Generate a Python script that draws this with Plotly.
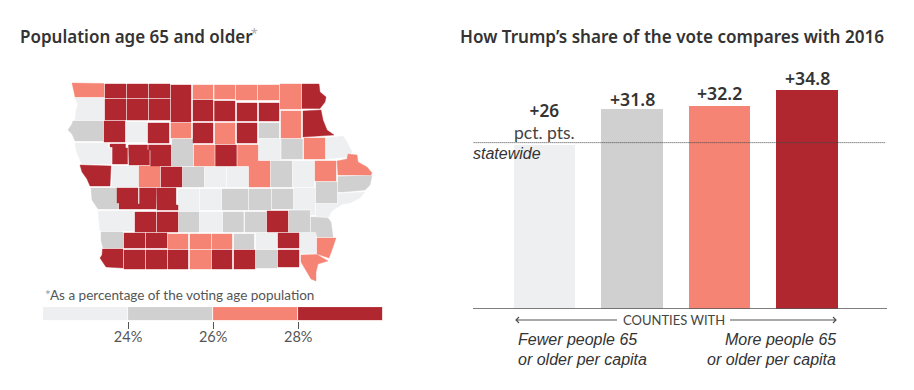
import plotly.graph_objects as go

W, H = 914, 390

# ---- bar chart data ----
bar_groups = ["Fewest", "Fewer", "More", "Most"]
bar_values = [26, 31.8, 32.2, 34.8]
bar_label_shift = [1, -3, 0, -1]
statewide_value = 26.45
band_colors = ["#eeeff1", "#d0d0d0", "#f68475", "#b1272f"]

# ---- legend data ----
legend_breaks = [22, 24, 26, 28, 30]
legend_ticks = [24, 26, 28]
legend_ticktext = ["24%", "26%", "28%"]

# ---- map data: county -> band (0..3) ----
county_band = {
    "Lyon": 2, "Osceola": 3, "Dickinson": 3, "Emmet": 3, "Kossuth": 3, "Winnebago": 2, "Worth": 2, "Mitchell": 2,
    "Howard": 2, "Winneshiek": 2, "Allamakee": 3,
    "Sioux": 0, "OBrien": 3, "Clay": 3, "PaloAlto": 3, "Hancock": 3, "CerroGordo": 3, "Floyd": 3, "Chickasaw": 3,
    "Fayette": 2, "Clayton": 3,
    "Plymouth": 1, "Cherokee": 3, "BuenaVista": 0, "Pocahontas": 3, "Humboldt": 2, "Wright": 3, "Franklin": 2,
    "Butler": 3, "Bremer": 1,
    "Woodbury": 0, "Ida": 3, "Sac": 3, "Calhoun": 3, "Webster": 1, "Hamilton": 2, "Hardin": 3, "Grundy": 2,
    "BlackHawk": 0, "Buchanan": 1, "Delaware": 2, "Dubuque": 0,
    "Monona": 3, "Crawford": 0, "Carroll": 2, "Greene": 3, "Boone": 1, "Story": 0, "Marshall": 0, "Tama": 2,
    "Benton": 1, "Linn": 0, "Jones": 2, "Jackson": 2, "Clinton": 1, "Cedar": 1, "Scott": 0,
    "Harrison": 1, "Shelby": 3, "Audubon": 3, "Guthrie": 3, "Dallas": 0, "Polk": 0, "Jasper": 1, "Poweshiek": 1,
    "Iowa": 1, "Johnson": 0, "Muscatine": 0,
    "Pottawattamie": 0, "Cass": 3, "Adair": 3, "Madison": 1, "Warren": 0, "Marion": 1, "Mahaska": 1, "Keokuk": 3,
    "Washington": 1, "Louisa": 1,
    "Mills": 1, "Montgomery": 3, "Adams": 3, "Union": 2, "Clarke": 2, "Lucas": 2, "Monroe": 1, "Wapello": 0,
    "Jefferson": 3, "Henry": 0, "DesMoines": 2,
    "Fremont": 3, "Page": 3, "Taylor": 3, "Ringgold": 3, "Decatur": 2, "Wayne": 3, "Appanoose": 3, "Davis": 1,
    "VanBuren": 3, "Lee": 2,
}

# county outlines in map units: 4 numbers = box (x0, y0, x1, y1), otherwise a vertex list
county_outline = {
    "Lyon": [(72, 83), (104, 83.5), (104, 97), (75, 97), (74, 92), (73, 88)],
    "Osceola": (105, 84, 126, 98), "Dickinson": (127, 84, 148, 98), "Emmet": (149, 84, 170, 98),
    "Kossuth": (171, 85, 191, 122), "Winnebago": (193, 85, 213, 99), "Worth": (214.5, 85, 235, 99),
    "Mitchell": (236, 85, 257, 100), "Howard": (258, 85, 279, 100), "Winneshiek": (280, 84, 301, 109),
    "Allamakee": [(302, 84), (319, 84), (320, 92), (326, 97), (325, 102), (320, 108.5), (302, 108.5)],
    "Sioux": [(74, 98), (104, 98), (104, 120), (75, 120), (76, 110), (78, 105), (76, 100)],
    "OBrien": (105, 99, 126, 120), "Clay": (127, 99, 148, 120), "PaloAlto": (149, 99, 170, 120),
    "Hancock": (193, 100, 213, 121), "CerroGordo": (214.5, 101, 235, 121), "Floyd": (237, 103, 257, 121),
    "Chickasaw": (259, 103, 279, 121), "Fayette": (281, 111, 301, 138),
    "Clayton": [(303, 111), (321, 110), (323, 120), (327, 130), (334, 135), (303, 137)],
    "Plymouth": [(73, 121), (103, 121), (103, 141), (75, 141), (72, 134), (68, 130), (72, 124)],
    "Cherokee": (104, 121, 125, 142), "BuenaVista": (126, 122, 147, 142), "Pocahontas": (148, 123, 169, 143),
    "Humboldt": (171, 123, 191, 138), "Wright": (193, 123, 213, 143), "Franklin": (215, 123, 235, 144),
    "Butler": (237, 123, 257, 143), "Bremer": (259, 123, 279, 138),
    "Woodbury": [(75, 143), (108, 143), (108, 148), (111.5, 148), (111.5, 164), (82, 164), (79, 158), (76, 150)],
    "Ida": [(110, 144), (125.5, 144), (125.5, 148), (127.5, 148), (127.5, 164), (112.5, 164), (112.5, 147), (110, 147)],
    "Sac": [(128.5, 145), (147.5, 145), (147.5, 150), (149.5, 150), (149.5, 165), (129, 165)],
    "Calhoun": [(148.5, 145), (171, 145), (171, 166), (150.5, 166), (150.5, 150), (148.5, 150)],
    "Webster": (172, 139, 193, 166), "Hamilton": (194, 145, 214.5, 166), "Hardin": (215.5, 145, 236.5, 166),
    "Grundy": (237.5, 145, 258, 166), "BlackHawk": (259, 139, 280.5, 160), "Buchanan": (281.5, 139, 302.5, 159),
    "Delaware": (304, 138, 325, 159),
    "Dubuque": [(326, 138), (343, 136), (347, 142), (352, 152), (348, 157), (326, 159)],
    "Monona": [(80, 165), (111, 166), (110, 186), (90, 186), (87, 179), (82, 172)],
    "Crawford": (112, 166, 138, 187), "Carroll": (139, 166, 160, 187), "Greene": (161, 167, 182, 187),
    "Boone": (183, 167, 204, 187), "Story": (205, 167, 226, 187), "Marshall": (227, 167, 248, 187),
    "Tama": (249, 161, 270, 187), "Benton": (271, 161, 292, 187), "Linn": (293, 161, 314, 187),
    "Jones": (315, 161, 336, 181),
    "Jackson": [(337, 161), (347, 159), (348, 154), (357, 155), (358, 162), (367, 167), (372, 173), (371, 175), (338, 175)],
    "Clinton": [(338, 176.5), (372, 175.5), (370, 185), (365, 190), (343, 192), (338, 192)],
    "Cedar": (316, 182, 337, 203),
    "Scott": [(338, 193.5), (365, 192), (360, 198), (350, 203), (343, 204), (338, 204)],
    "Harrison": [(91, 188), (118, 188), (118, 209), (98, 209), (92, 200)],
    "Shelby": [(117, 188), (138, 188), (138, 204), (140, 204), (140, 209), (119, 209), (119, 203), (117, 203)],
    "Audubon": (139.5, 188, 156, 209),
    "Guthrie": [(156.5, 188), (176, 188), (176, 205), (178, 205), (178, 210), (157, 210)],
    "Dallas": (178, 189, 199, 211), "Polk": (200, 189, 221, 210), "Jasper": (222, 189, 248, 210),
    "Poweshiek": (249, 189, 271, 210), "Iowa": (272, 189, 293, 209),
    "Johnson": [(294, 188), (315, 188), (315, 215), (311, 215), (311, 209.5), (294, 209.5)],
    "Muscatine": [(316, 204), (343, 204), (333, 210), (330, 214), (329, 217), (316, 216.5)],
    "Pottawattamie": [(98, 211), (134, 211), (134, 231), (100, 231), (99, 222)],
    "Cass": (135, 212, 156, 232), "Adair": (157, 212, 178, 232), "Madison": (179, 212, 199, 232),
    "Warren": (200, 212, 222, 232), "Marion": (223, 212, 243.5, 232), "Mahaska": (245, 212, 266, 232),
    "Keokuk": (267, 211, 288, 232), "Washington": (289, 210.5, 310, 232),
    "Louisa": [(311, 217), (328, 218), (331, 222), (333, 237), (317, 237), (316, 232), (311, 232)],
    "Mills": [(101, 232), (123, 232), (123, 248), (103, 248), (101, 240)],
    "Montgomery": (124, 233, 145, 248), "Adams": (146, 233, 167, 248), "Union": (168, 234, 188, 249),
    "Clarke": (190, 234, 211, 249), "Lucas": (212, 234, 232, 249), "Monroe": (234, 234, 254, 249),
    "Wapello": (256, 233, 277, 249), "Jefferson": (278, 233, 299, 248), "Henry": (300, 232.5, 316, 253.5),
    "DesMoines": [(317, 238), (336, 238), (333, 247), (329, 258), (317, 254)],
    "Fremont": [(102.5, 249), (123, 249), (123, 268), (106, 267), (100, 258), (102, 255)],
    "Page": (124, 250, 145, 269), "Taylor": (146, 250, 167, 269), "Ringgold": (168, 250, 188, 269),
    "Decatur": (190, 250, 211, 269), "Wayne": (212, 250, 232, 269), "Appanoose": (234, 250, 255, 269),
    "Davis": (256, 250, 277, 268), "VanBuren": (278, 250, 299, 267),
    "Lee": [(301, 255), (317, 254.5), (328, 261), (318, 264), (316, 272), (316, 281), (311, 279), (305, 268), (301, 262)],
}

INK = "#333333"
SANS = "Noto Sans"
NARROW = "Lato"
ITALIC = "Liberation Sans"


def px(x):
    return x / W


def py(y):
    return 1 - y / H


fig = go.Figure()

# --- choropleth built from county outlines, one filled trace per band ---
for band, color in enumerate(band_colors):
    xs, ys = [], []
    for name, b in county_band.items():
        if b != band:
            continue
        o = county_outline[name]
        if len(o) == 4 and not isinstance(o[0], tuple):
            x0, y0, x1, y1 = o
            o = [(x0, y0), (x1, y0), (x1, y1), (x0, y1)]
        xs += [p[0] for p in o] + [o[0][0], None]
        ys += [p[1] for p in o] + [o[0][1], None]
    fig.add_trace(go.Scatter(x=xs, y=ys, mode="lines", fill="toself", fillcolor=color,
                             line=dict(width=0.4, color=color), hoverinfo="skip",
                             showlegend=False, xaxis="x", yaxis="y"))

# --- legend strip ---
for i, color in enumerate(band_colors):
    fig.add_trace(go.Bar(y=[0], x=[legend_breaks[i + 1] - legend_breaks[i]], base=[legend_breaks[i]],
                         orientation="h", marker=dict(color=color, line=dict(color="white", width=0.8)),
                         width=1, showlegend=False, hoverinfo="skip", xaxis="x3", yaxis="y3"))

# --- bars ---
fig.add_trace(go.Bar(x=list(range(len(bar_values))), y=bar_values, width=0.703,
                     marker=dict(color=band_colors, line=dict(width=0)),
                     showlegend=False, hoverinfo="skip", xaxis="x2", yaxis="y2"))

annotations = []


def label(x, y, text, size, font=SANS, color=INK, anchor="left", weight=None, italic=False):
    f = dict(family=font, size=size, color=color)
    if weight:
        f["weight"] = weight
    if italic:
        f["style"] = "italic"
    annotations.append(dict(xref="paper", yref="paper", x=px(x), y=py(y), text=text, showarrow=False,
                            xanchor=anchor, yanchor="middle", font=f, borderpad=0))


label(19, 36, "Population age 65 and older", 17, weight=600)
label(250, 33.5, "*", 12, color="#aaaaaa")
label(459, 36, "How Trump’s share of the vote compares with 2016", 17.1, weight=600)
label(44, 295, "<span style='color:#999'>*</span>As a percentage of the voting age population", 13.5,
      font=NARROW, color="#555555")

# bar value labels, anchored to the bar positions
for i, v in enumerate(bar_values):
    if i == 0:
        text = (f"<span style='font-size:17.2px;font-weight:600'>+{v:g}</span><br>"
                f"<span style='font-family:{NARROW};font-size:17.5px;color:#444444'>pct. pts.</span>")
        font = dict(family=SANS, size=17.3, color=INK)
    else:
        text = f"+{v:g}"
        font = dict(family=SANS, size=17.7, color=INK, weight=600)
    annotations.append(dict(xref="x2", yref="y2", x=i, y=v, text=text, showarrow=False,
                            yanchor="bottom", yshift=bar_label_shift[i], font=font, borderpad=0))

label(472.5, 154, "statewide", 16, font=ITALIC, anchor="left", italic=True)
label(674, 320, "COUNTIES WITH", 13, font=NARROW, color="#444444", anchor="center")
label(516.5, 339, "Fewer people 65", 16, font=ITALIC, italic=True)
label(516.5, 359.5, "or older per capita", 16, font=ITALIC, italic=True)
label(836.5, 339, "More people 65", 16, font=ITALIC, italic=True, anchor="right")
label(836.5, 359.5, "or older per capita", 16, font=ITALIC, italic=True, anchor="right")

shapes = [
    dict(type="line", xref="x2", yref="y2", x0=-0.817, x1=3.914, y0=0, y1=0,
         line=dict(color="#555555", width=1.5), layer="above"),
    dict(type="line", xref="x2", yref="y2", x0=-0.81, x1=3.9, y0=statewide_value, y1=statewide_value,
         line=dict(color="#444444", width=1, dash="1px,1px"), layer="above"),
    dict(type="path", xref="paper", yref="paper", line=dict(color="#555555", width=1.2),
         path=f"M{px(617)},{py(320)} L{px(516)},{py(320)} M{px(519)},{py(317)} L{px(516)},{py(320)} L{px(519)},{py(323)}"),
    dict(type="path", xref="paper", yref="paper", line=dict(color="#555555", width=1.2),
         path=f"M{px(730)},{py(320)} L{px(836)},{py(320)} M{px(833)},{py(317)} L{px(836)},{py(320)} L{px(833)},{py(323)}"),
]

fig.update_layout(
    width=W, height=H, margin=dict(l=0, r=0, t=0, b=0), paper_bgcolor="white", plot_bgcolor="rgba(0,0,0,0)",
    bargap=0, barmode="overlay", showlegend=False, annotations=annotations, shapes=shapes,
    xaxis=dict(domain=[0, 420 / W], range=[0, 420], visible=False, fixedrange=True),
    yaxis=dict(domain=[0, 1], range=[390, 0], visible=False, fixedrange=True),
    xaxis2=dict(domain=[px(473), px(887)], range=[-0.817, 3.914], anchor="y2", showgrid=False, zeroline=False,
                showticklabels=False, ticks="", showline=False, fixedrange=True),
    yaxis2=dict(domain=[py(309), py(60)], range=[0, 249 / 6.29], anchor="x2", visible=False, fixedrange=True),
    xaxis3=dict(domain=[px(43), px(383.3)], range=[22, 30], anchor="y3", tickmode="array", tickvals=legend_ticks,
                ticktext=legend_ticktext, ticks="outside", ticklen=7, tickcolor="#555555", tickwidth=1,
                ticklabelstandoff=-4, showgrid=False, zeroline=False, showline=False, fixedrange=True,
                tickfont=dict(family=NARROW, size=14.5, color="#555555")),
    yaxis3=dict(domain=[py(321), py(307)], range=[-0.5, 0.5], anchor="x3", visible=False, fixedrange=True),
)

fig.write_html("out.html", config=dict(displayModeBar=False),
               post_script="document.body.style.margin='0';")
